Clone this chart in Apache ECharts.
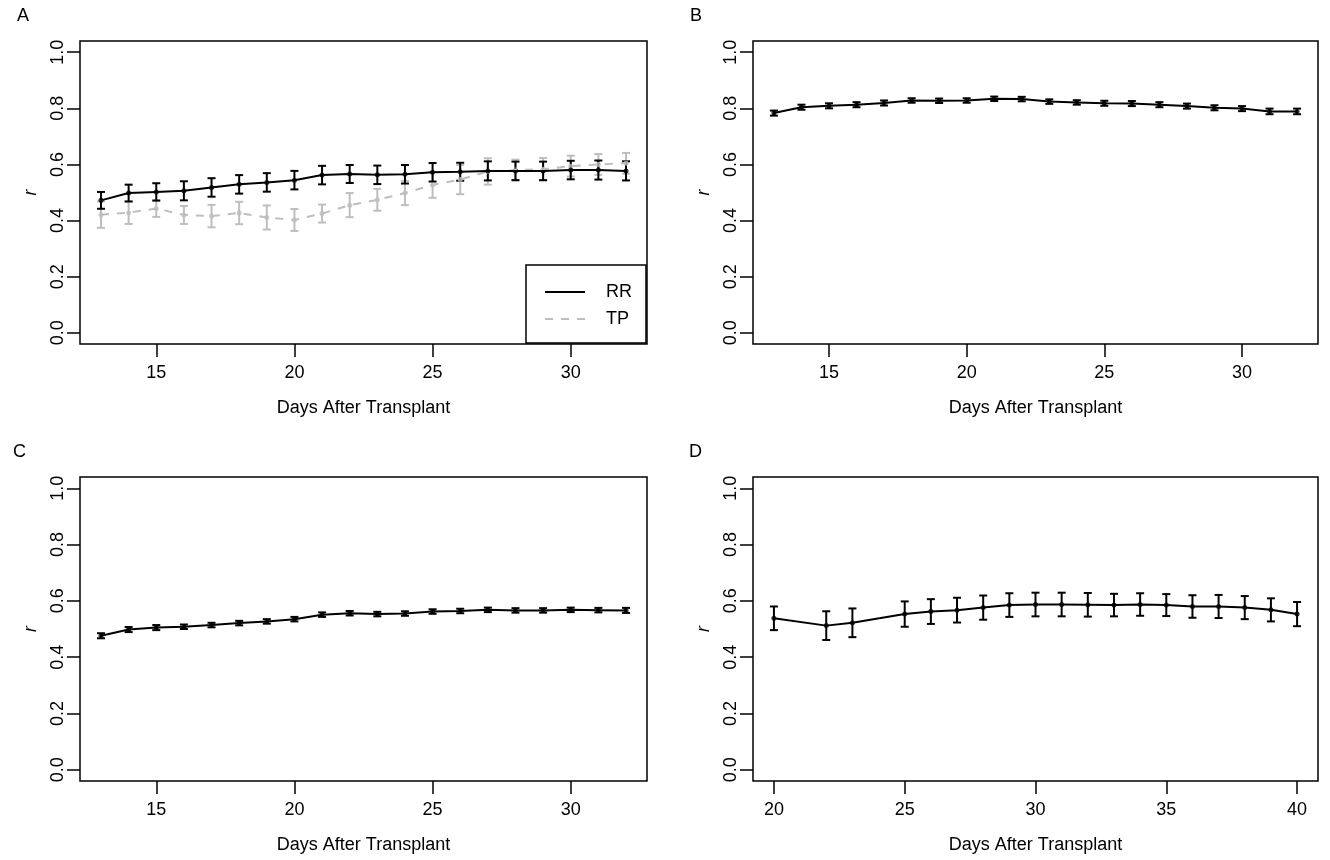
<!DOCTYPE html>
<html>
<head>
<meta charset="utf-8">
<script src="https://cdn.jsdelivr.net/npm/echarts@6/dist/echarts.min.js"></script>
<style>
  html, body { margin: 0; padding: 0; background: #fff; }
  #main { width: 1330px; height: 860px; }
</style>
</head>
<body>
<div id="main"></div>
<script>
// days for panels A, B, C
const days = [13, 14, 15, 16, 17, 18, 19, 20, 21, 22, 23, 24, 25, 26, 27, 28, 29, 30, 31, 32];
// days for panel D (21 and 24 missing)
const daysD = [20, 22, 23, 25, 26, 27, 28, 29, 30, 31, 32, 33, 34, 35, 36, 37, 38, 39, 40];

const rrA = [0.472, 0.498, 0.502, 0.506, 0.518, 0.529, 0.536, 0.544, 0.562, 0.566, 0.563, 0.565, 0.572, 0.574, 0.577, 0.577, 0.577, 0.580, 0.580, 0.577];
const rrAErr = [0.030, 0.030, 0.031, 0.034, 0.033, 0.033, 0.033, 0.033, 0.033, 0.032, 0.033, 0.033, 0.033, 0.032, 0.034, 0.033, 0.033, 0.033, 0.034, 0.034];
const tpA = [0.421, 0.428, 0.443, 0.420, 0.416, 0.427, 0.411, 0.402, 0.425, 0.455, 0.474, 0.498, 0.527, 0.546, 0.575, 0.580, 0.583, 0.594, 0.600, 0.604];
const tpAErr = [0.047, 0.040, 0.030, 0.032, 0.040, 0.040, 0.043, 0.039, 0.032, 0.043, 0.039, 0.043, 0.046, 0.052, 0.047, 0.037, 0.040, 0.037, 0.037, 0.037];

const rrB = [0.783, 0.804, 0.809, 0.813, 0.819, 0.828, 0.827, 0.828, 0.834, 0.833, 0.824, 0.821, 0.818, 0.817, 0.813, 0.808, 0.802, 0.799, 0.789, 0.789];
const rrBErr = [0.009, 0.009, 0.009, 0.009, 0.009, 0.008, 0.008, 0.008, 0.008, 0.008, 0.008, 0.008, 0.009, 0.009, 0.009, 0.009, 0.009, 0.009, 0.010, 0.010];

const rrC = [0.476, 0.498, 0.505, 0.508, 0.514, 0.521, 0.527, 0.535, 0.551, 0.556, 0.553, 0.555, 0.562, 0.564, 0.568, 0.566, 0.566, 0.568, 0.567, 0.566];
const rrCErr = [0.009, 0.009, 0.009, 0.008, 0.008, 0.008, 0.008, 0.008, 0.008, 0.008, 0.008, 0.008, 0.008, 0.008, 0.008, 0.008, 0.008, 0.008, 0.008, 0.009];

const rrD = [0.538, 0.512, 0.522, 0.553, 0.562, 0.567, 0.576, 0.585, 0.587, 0.587, 0.586, 0.585, 0.587, 0.585, 0.580, 0.580, 0.576, 0.568, 0.553];
const rrDErr = [0.042, 0.051, 0.051, 0.045, 0.044, 0.044, 0.043, 0.042, 0.042, 0.042, 0.042, 0.040, 0.040, 0.039, 0.040, 0.041, 0.041, 0.041, 0.043];

const yTicks = [0, 0.2, 0.4, 0.6, 0.8, 1.0];
const xTicks = [15, 20, 25, 30];
const xTicksD = [20, 25, 30, 35, 40];

const FONT = '"Liberation Sans", Arial, sans-serif';
const GRAY = '#bebebe';

const grids = [
  { left: 80, top: 41, width: 567, height: 303 },
  { left: 753, top: 41, width: 565, height: 303 },
  { left: 80, top: 477, width: 567, height: 304 },
  { left: 753, top: 477, width: 565, height: 304 }
].map(g => Object.assign({ show: true, borderColor: '#000', borderWidth: 1.5, backgroundColor: 'transparent' }, g));

function xAxisFor(i, lo, hi, ticks) {
  return {
    type: 'value', gridIndex: i, min: lo, max: hi,
    name: 'Days After Transplant', nameLocation: 'middle', nameGap: 55,
    nameTextStyle: { fontFamily: FONT, fontSize: 18, color: '#000' },
    axisLine: { show: false, onZero: false },
    splitLine: { show: false },
    axisTick: { show: true, inside: false, length: 13, lineStyle: { color: '#000', width: 1.5 }, customValues: ticks },
    axisLabel: { fontFamily: FONT, fontSize: 18, color: '#000', margin: 20, customValues: ticks }
  };
}

function yAxisFor(i) {
  return {
    type: 'value', gridIndex: i, min: -0.04, max: 1.04,
    name: 'r', nameLocation: 'middle', nameGap: 40, nameRotate: 90,
    nameTextStyle: { fontFamily: FONT, fontSize: 18, fontStyle: 'italic', color: '#000' },
    axisLine: { show: false, onZero: false },
    splitLine: { show: false },
    axisTick: { show: true, inside: false, length: 13, lineStyle: { color: '#000', width: 1.5 }, customValues: yTicks },
    axisLabel: {
      fontFamily: FONT, fontSize: 18, color: '#000', rotate: 90, margin: 13,
      customValues: yTicks, formatter: v => v.toFixed(1)
    }
  };
}

function errorBars(i, xs, ys, errs, color) {
  return {
    type: 'custom', xAxisIndex: i, yAxisIndex: i, silent: true,
    itemStyle: { color: color },
    data: xs.map((x, k) => [x, ys[k] - errs[k], ys[k] + errs[k]]),
    encode: { x: 0, y: [1, 2] },
    renderItem: function (params, api) {
      const lo = api.coord([api.value(0), api.value(1)]);
      const hi = api.coord([api.value(0), api.value(2)]);
      const w = 4;
      const style = { stroke: color, lineWidth: 2 };
      return {
        type: 'group',
        children: [
          { type: 'line', shape: { x1: lo[0], y1: lo[1], x2: hi[0], y2: hi[1] }, style: style },
          { type: 'line', shape: { x1: lo[0] - w, y1: lo[1], x2: lo[0] + w, y2: lo[1] }, style: style },
          { type: 'line', shape: { x1: hi[0] - w, y1: hi[1], x2: hi[0] + w, y2: hi[1] }, style: style }
        ]
      };
    }
  };
}

function lineSeries(i, xs, ys, color, name, dashed) {
  return {
    type: 'line', name: name, xAxisIndex: i, yAxisIndex: i,
    data: xs.map((x, k) => [x, ys[k]]),
    symbol: 'none', showSymbol: false,
    lineStyle: { color: color, width: 2, type: dashed ? [8, 8] : 'solid' },
    itemStyle: { color: color }
  };
}

function dots(i, xs, ys, color) {
  return {
    type: 'scatter', xAxisIndex: i, yAxisIndex: i,
    data: xs.map((x, k) => [x, ys[k]]),
    symbol: 'circle', symbolSize: 5,
    itemStyle: { color: color }
  };
}

const series = [
  // A: TP first, RR drawn on top
  errorBars(0, days, tpA, tpAErr, GRAY),
  lineSeries(0, days, tpA, GRAY, 'TP', true),
  dots(0, days, tpA, GRAY),
  errorBars(0, days, rrA, rrAErr, '#000'),
  lineSeries(0, days, rrA, '#000', 'RR', false),
  dots(0, days, rrA, '#000'),
  // B
  errorBars(1, days, rrB, rrBErr, '#000'),
  lineSeries(1, days, rrB, '#000', 'B', false),
  dots(1, days, rrB, '#000'),
  // C
  errorBars(2, days, rrC, rrCErr, '#000'),
  lineSeries(2, days, rrC, '#000', 'C', false),
  dots(2, days, rrC, '#000'),
  // D
  errorBars(3, daysD, rrD, rrDErr, '#000'),
  lineSeries(3, daysD, rrD, '#000', 'D', false),
  dots(3, daysD, rrD, '#000')
];

const panelTitle = (text, left, top) => ({
  text: text, left: left, top: top, padding: 0,
  textStyle: { fontFamily: FONT, fontSize: 18, fontWeight: 'normal', color: '#000' }
});

// legend icons: a solid stroke and a dashed stroke
const solidIcon = 'path://M0,0H40V2H0Z';
const dashIcon = 'path://M0,0H8V2H0Z M16,0H24V2H16Z M32,0H40V2H32Z';

const option = {
  animation: false,
  backgroundColor: '#fff',
  title: [
    panelTitle('A', 17, 7),
    panelTitle('B', 690, 7),
    panelTitle('C', 13, 443),
    panelTitle('D', 689, 443)
  ],
  grid: grids,
  xAxis: [
    xAxisFor(0, 12.24, 32.76, xTicks),
    xAxisFor(1, 12.24, 32.76, xTicks),
    xAxisFor(2, 12.24, 32.76, xTicks),
    xAxisFor(3, 19.2, 40.8, xTicksD)
  ],
  yAxis: [yAxisFor(0), yAxisFor(1), yAxisFor(2), yAxisFor(3)],
  legend: {
    data: [
      { name: 'RR', icon: solidIcon, itemStyle: { color: '#000' } },
      { name: 'TP', icon: dashIcon, itemStyle: { color: GRAY } }
    ],
    orient: 'vertical',
    left: 526, top: 265,
    padding: [18, 14, 15, 19],
    itemWidth: 42, itemHeight: 2, itemGap: 9,
    borderColor: '#000', borderWidth: 1.5, borderRadius: 0,
    backgroundColor: '#fff',
    textStyle: { fontFamily: FONT, fontSize: 18, color: '#000', padding: [0, 0, 0, 15] },
    selectedMode: false
  },
  series: series
};

const myChart = echarts.init(document.getElementById('main'));
myChart.setOption(option);
</script>
</body>
</html>
